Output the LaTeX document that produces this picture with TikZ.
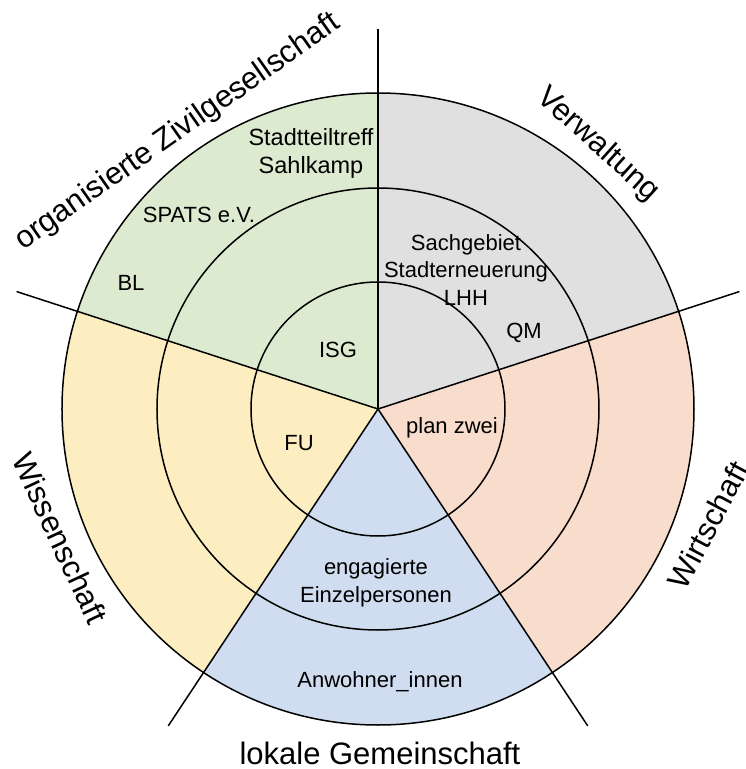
\documentclass[tikz,border=0pt]{standalone}
\usepackage{fontspec}
\setmainfont{Liberation Sans}
\usetikzlibrary{calc}

\definecolor{civil}{RGB}{220,235,208}
\definecolor{admin}{RGB}{224,224,224}
\definecolor{business}{RGB}{248,220,204}
\definecolor{community}{RGB}{208,220,240}
\definecolor{science}{RGB}{252,238,192}

\begin{document}
\begin{tikzpicture}[
x=1pt, y=1pt,
ring/.style={line width=1.5pt},
spoke/.style={line width=1.5pt},
actor/.style={
	font=\fontsize{22}{27.5}\selectfont,
	align=center, inner sep=0pt
},
field/.style={font=\fontsize{31}{37}\selectfont, inner sep=0pt}
]
\useasboundingbox (-378,-360) rectangle (368,409);
\coordinate (M) at (0,0);
% sectors
\foreach \a/\b/\c in {90/162/civil, 162/236.5/science, 236.5/303.5/community, 303.5/378/business, 18/90/admin}
{
	\fill[\c] (M) -- (\a:316) arc (\a:\b:316) -- cycle;
}
\foreach \r in {127,221,316}
	\draw[ring] (M) circle (\r);
\foreach \a [count=\i] in {90,18,162,236.5,303.5}
{
	\coordinate (s\i) at (\a:380);
	\draw[spoke] (M) -- (s\i);
}
\node[actor, font=\fontsize{23.5}{28}\selectfont] (stadtteil) at (-67,256) {Stadtteiltreff\\Sahlkamp};
\node[actor] (spats) at (-179,194) {SPATS e.V.};
\node[actor] (bl) at (-247,126) {BL};
\node[actor] (isg) at (-40,59) {ISG};
\node[actor] (sachgebiet) at (88,139) {Sachgebiet\\Stadterneuerung\\LHH};
\node[actor] (qm) at (146,76) {QM};
\node[actor] (plan) at (74,-19) {plan zwei};
\node[actor] (fu) at (-79,-34) {FU};
\node[actor] (einzel) at (-2,-174) {engagierte\\Einzelpersonen};
\node[actor] (anwohner) at (2,-273) {Anwohner\_innen};
\node[field] (gemeinschaft) at (2,-344) {lokale Gemeinschaft};
\node[field, rotate=35] (zivil) at (-200,277) {organisierte Zivilgesellschaft};
\node[field, rotate=-42] (verwaltung) at (220,264) {Verwaltung};
\node[field, rotate=62] (wirtschaft) at (330,-116) {Wirtschaft};
\node[field, rotate=-65] (wissen) at (-318,-129) {Wissenschaft};
\end{tikzpicture}
\end{document}
